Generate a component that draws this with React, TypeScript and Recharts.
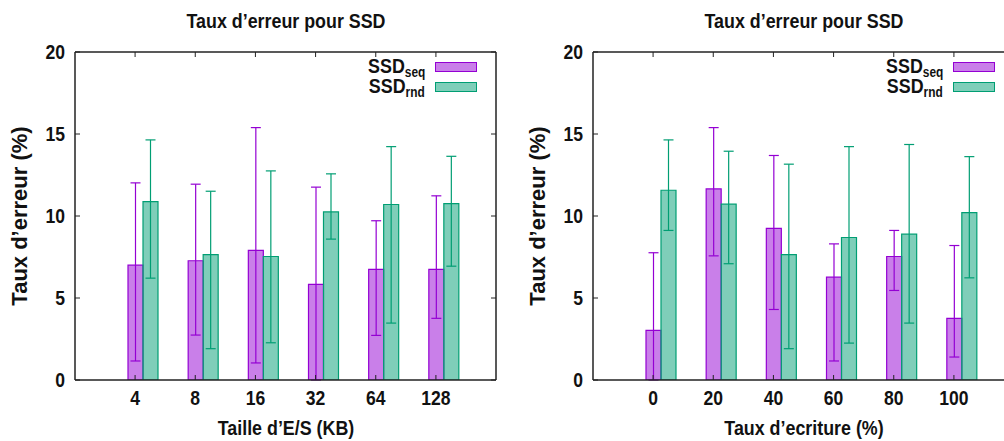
import React from 'react';
import { BarChart, Bar, XAxis, YAxis, ErrorBar, Legend } from 'recharts';

// values (percent)
const sizeLabels = ['4', '8', '16', '32', '64', '128'];
const seqBySize = [7.0, 7.27, 7.9, 5.83, 6.74, 6.74];
const seqBySizeLow = [1.16, 2.74, 1.04, 0, 2.72, 3.76];
const seqBySizeHigh = [12.02, 11.94, 15.39, 11.76, 9.71, 11.23];
const rndBySize = [10.88, 7.65, 7.53, 10.25, 10.7, 10.76];
const rndBySizeLow = [6.21, 1.91, 2.27, 8.59, 3.47, 6.94];
const rndBySizeHigh = [14.64, 11.51, 12.75, 12.57, 14.23, 13.64];

const writeLabels = ['0', '20', '40', '60', '80', '100'];
const seqByWrite = [3.03, 11.65, 9.24, 6.27, 7.53, 3.76];
const seqByWriteLow = [0, 7.57, 4.3, 1.16, 5.46, 1.4];
const seqByWriteHigh = [7.76, 15.39, 13.69, 8.3, 9.12, 8.2];
const rndByWrite = [11.57, 10.72, 7.65, 8.69, 8.89, 10.21];
const rndByWriteLow = [9.12, 7.09, 1.91, 2.25, 3.47, 6.23];
const rndByWriteHigh = [14.64, 13.95, 13.16, 14.23, 14.36, 13.62];

const yTicks = [0, 5, 10, 15, 20];
const seriesOrder = ['seq', 'rnd'];

const SEQ = '#9400d3';
const RND = '#009e73';
const AXIS = '#222';
const FONT = "'Liberation Sans', Arial, sans-serif";
// the reference text is narrower than Liberation Sans, squeeze it a bit
const SQUEEZE = 0.85;

function buildRows(
  labels: string[],
  seq: number[], seqLow: number[], seqHigh: number[],
  rnd: number[], rndLow: number[], rndHigh: number[],
) {
  return labels.map((cat, i) => ({
    cat,
    seq: seq[i],
    seqErr: [seq[i] - seqLow[i], seqHigh[i] - seq[i]],
    rnd: rnd[i],
    rndErr: [rnd[i] - rndLow[i], rndHigh[i] - rnd[i]],
  }));
}

const sizeRows = buildRows(sizeLabels, seqBySize, seqBySizeLow, seqBySizeHigh, rndBySize, rndBySizeLow, rndBySizeHigh);
const writeRows = buildRows(writeLabels, seqByWrite, seqByWriteLow, seqByWriteHigh, rndByWrite, rndByWriteLow, rndByWriteHigh);

const BottomTick = (props: any) => {
  const { x, y, payload } = props;
  return (
    <g>
      <line x1={x} x2={x} y1={y} y2={y - 5} stroke={AXIS} strokeWidth={1} />
      <text
        transform={`translate(${x},${y + 25}) scale(0.9,1)`}
        textAnchor="middle"
        fontFamily={FONT}
        fontWeight="bold"
        fontSize={19.5}
        fill="#111"
      >
        {payload.value}
      </text>
    </g>
  );
};

// green bars sit on a shifted band, so the mirrored tick goes back by one bar
const TopTick = (props: any) => {
  const { x, y } = props;
  return <line x1={x - 15} x2={x - 15} y1={y} y2={y + 5} stroke={AXIS} strokeWidth={1} />;
};

const LeftTick = (props: any) => {
  const { x, y, payload } = props;
  return (
    <g>
      <line x1={x} x2={x + 5} y1={y} y2={y} stroke={AXIS} strokeWidth={1} />
      <text
        transform={`translate(${x - 10},${y + 7}) scale(0.9,1)`}
        textAnchor="end"
        fontFamily={FONT}
        fontWeight="bold"
        fontSize={19.5}
        fill="#111"
      >
        {payload.value}
      </text>
    </g>
  );
};

const RightTick = (props: any) => {
  const { x, y } = props;
  return <line x1={x} x2={x - 5} y1={y} y2={y} stroke={AXIS} strokeWidth={1} />;
};

const LegendContent = (props: any) => {
  const entries = [...(props.payload || [])].sort(
    (a: any, b: any) => seriesOrder.indexOf(a.value) - seriesOrder.indexOf(b.value),
  );
  return (
    <div style={{ fontFamily: FONT, fontWeight: 'bold', color: '#111' }}>
      {entries.map((entry: any) => {
        const color = entry.value === 'seq' ? SEQ : RND;
        return (
          <div key={entry.value} style={{ display: 'flex', justifyContent: 'flex-end', alignItems: 'center', height: 20 }}>
            <span
              style={{
                fontSize: 21,
                lineHeight: '20px',
                whiteSpace: 'nowrap',
                display: 'inline-block',
                transform: `scaleX(${SQUEEZE})`,
                transformOrigin: 'right center',
              }}
            >
              SSD<span style={{ fontSize: 14, position: 'relative', top: 4 }}>{entry.value}</span>
            </span>
            <span
              style={{
                display: 'inline-block',
                boxSizing: 'border-box',
                width: 42,
                height: 10,
                marginLeft: 10,
                background: color + '80',
                border: `1.5px solid ${color}`,
              }}
            />
          </div>
        );
      })}
    </div>
  );
};

interface PanelProps {
  rows: ReturnType<typeof buildRows>;
  xTitle: string;
  left: number;
  width: number;
  yAxisWidth: number;
}

function Panel({ rows, xTitle, left, width, yAxisWidth }: PanelProps) {
  const plotRight = width - 4;
  const plotMid = (yAxisWidth + plotRight) / 2;
  const textStyle: React.CSSProperties = {
    position: 'absolute',
    left: plotMid,
    transform: `translateX(-50%) scaleX(${SQUEEZE})`,
    fontFamily: FONT,
    fontWeight: 'bold',
    fontSize: 21,
    lineHeight: '21px',
    whiteSpace: 'nowrap',
    color: '#111',
  };
  return (
    <div style={{ position: 'absolute', left, top: 0, width, height: 441 }}>
      <div style={{ ...textStyle, top: 10 }}>Taux d’erreur pour SSD</div>
      <BarChart width={width} height={441} data={rows} margin={{ top: 51, right: 3, bottom: 0, left: 0 }}>
        <XAxis
          xAxisId="b"
          dataKey="cat"
          orientation="bottom"
          height={61}
          interval={0}
          padding={{ left: 30, right: 30 }}
          tickSize={0}
          tickMargin={0}
          tickLine={false}
          tick={<BottomTick />}
          axisLine={{ stroke: AXIS, strokeWidth: 1.5 }}
        />
        <XAxis
          xAxisId="t"
          dataKey="cat"
          orientation="top"
          height={1}
          interval={0}
          padding={{ left: 45, right: 15 }}
          tickSize={0}
          tickMargin={0}
          tickLine={false}
          tick={<TopTick />}
          axisLine={{ stroke: AXIS, strokeWidth: 1.5 }}
        />
        <YAxis
          yAxisId="l"
          type="number"
          domain={[0, 20]}
          ticks={yTicks}
          width={yAxisWidth}
          allowDataOverflow
          tickSize={0}
          tickMargin={0}
          tickLine={false}
          tick={<LeftTick />}
          axisLine={{ stroke: AXIS, strokeWidth: 1.5 }}
        />
        <YAxis
          yAxisId="r"
          orientation="right"
          type="number"
          domain={[0, 20]}
          ticks={yTicks}
          width={1}
          allowDataOverflow
          tickSize={0}
          tickMargin={0}
          tickLine={false}
          tick={<RightTick />}
          axisLine={{ stroke: AXIS, strokeWidth: 1.5 }}
        />
        <Legend
          layout="horizontal"
          verticalAlign="middle"
          align="center"
          content={<LegendContent />}
          wrapperStyle={{ top: 57, left: plotRight - 19 - 177, width: 177 }}
        />
        <Bar
          name="seq"
          dataKey="seq"
          xAxisId="b"
          yAxisId="l"
          barSize={15}
          fill={SEQ}
          fillOpacity={0.5}
          stroke={SEQ}
          strokeWidth={1.2}
          isAnimationActive={false}
        >
          <ErrorBar dataKey="seqErr" direction="y" width={5} stroke={SEQ} strokeWidth={1.2} />
        </Bar>
        <Bar
          name="rnd"
          dataKey="rnd"
          xAxisId="t"
          yAxisId="r"
          barSize={15}
          fill={RND}
          fillOpacity={0.5}
          stroke={RND}
          strokeWidth={1.2}
          isAnimationActive={false}
        >
          <ErrorBar dataKey="rndErr" direction="y" width={5} stroke={RND} strokeWidth={1.2} />
        </Bar>
      </BarChart>
      <div style={{ ...textStyle, top: 417 }}>{xTitle}</div>
      <div
        style={{
          position: 'absolute',
          left: yAxisWidth - 55,
          top: 216,
          transform: 'translate(-50%, -50%) rotate(-90deg)',
          fontFamily: FONT,
          fontWeight: 'bold',
          fontSize: 22,
          lineHeight: '22px',
          whiteSpace: 'nowrap',
          color: '#111',
        }}
      >
        Taux d’erreur (%)
      </div>
    </div>
  );
}

export default function App() {
  return (
    <div style={{ position: 'fixed', left: 0, top: 0, width: 1004, height: 441, overflow: 'hidden', background: '#fff' }}>
      <Panel rows={sizeRows} xTitle="Taille d’E/S (KB)" left={0} width={500} yAxisWidth={75} />
      <Panel rows={writeRows} xTitle="Taux d’ecriture (%)" left={500} width={518} yAxisWidth={93} />
    </div>
  );
}
